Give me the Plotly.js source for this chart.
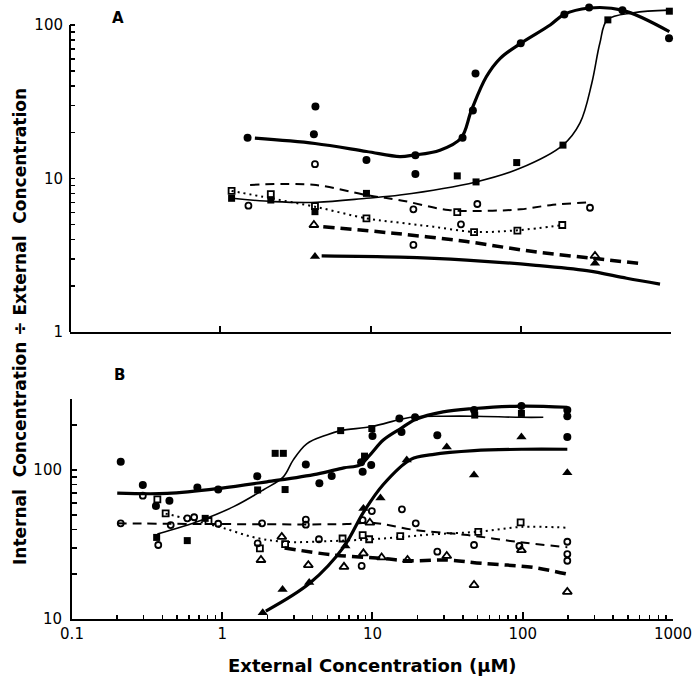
<!DOCTYPE html>
<html>
<head>
<meta charset="utf-8">
<script src="https://cdn.plot.ly/plotly-3.0.1.min.js"></script>
<style>html,body{margin:0;padding:0;background:#fff;}#chart{width:700px;height:676px;}</style>
</head>
<body>
<div id="chart"></div>
<script>
// ---------- Panel A data ----------
var A_filledCircle_x = [1.52, 4.3, 4.2, 9.4, 19.9, 19.9, 41, 48, 50, 100, 195, 285, 475, 970];
var A_filledCircle_y = [18.4, 29.4, 19.4, 13.2, 10.7, 14.2, 18.4, 27.7, 48.3, 76, 117, 130, 125, 82];
var A_filledSquare_x = [1.19, 2.17, 4.27, 9.4, 37.8, 50.4, 94, 191, 380, 975];
var A_filledSquare_y = [7.43, 7.24, 6.08, 8.0, 10.4, 9.5, 12.7, 16.5, 108, 123];
var A_openSquare_x = [1.19, 2.17, 4.27, 9.4, 37.8, 48.9, 95, 189];
var A_openSquare_y = [8.3, 7.9, 6.6, 5.5, 6.03, 4.47, 4.57, 4.98];
var A_openCircle_x = [1.54, 4.27, 19.3, 19.3, 40, 51.4, 289];
var A_openCircle_y = [6.65, 12.4, 6.3, 3.69, 5.03, 6.82, 6.45];
var A_openTriangle_x = [4.2, 312];
var A_openTriangle_y = [4.98, 3.13];
var A_filledTriangle_x = [4.27, 312];
var A_filledTriangle_y = [3.1, 2.8];

var A_curve1_x = [1.7, 4.27, 9.4, 15.7, 19.3, 29, 40, 47, 59, 73, 100, 157, 194, 284, 474, 975];
var A_curve1_y = [18.3, 16.9, 15.0, 13.9, 14.2, 15.3, 18.3, 27.9, 46, 60.7, 76, 100, 117, 129, 125, 90.5];
var A_curve2_x = [1.2, 2.26, 4.4, 9.4, 15.7, 50.4, 98, 191, 248, 297, 336, 377, 561, 975];
var A_curve2_y = [7.43, 7.07, 7.0, 7.43, 7.8, 9.5, 11.6, 16.5, 23, 41.7, 76, 108, 120, 125];
var A_curve3_x = [1.58, 4.16, 9.4, 16, 33, 65, 100, 157, 282];
var A_curve3_y = [9.07, 9.1, 7.8, 7.2, 6.24, 6.17, 6.3, 6.7, 7.0];
var A_curve4_x = [1.19, 2.17, 4.27, 9.4, 15.7, 26.2, 48.9, 95, 189];
var A_curve4_y = [8.3, 7.43, 6.55, 5.5, 5.15, 4.85, 4.49, 4.6, 4.98];
var A_curve5_x = [4.85, 14.2, 43.6, 121, 304, 607];
var A_curve5_y = [4.85, 4.4, 3.88, 3.34, 3.02, 2.8];
var A_curve6_x = [4.73, 15.7, 43.6, 121, 275, 507, 845];
var A_curve6_y = [3.13, 3.07, 2.94, 2.73, 2.51, 2.24, 2.05];

// ---------- Panel B data ----------
var B_filledCircle_x = [0.211, 0.296, 0.362, 0.445, 0.683, 0.94, 1.71, 3.6, 4.43, 5.35, 8.6, 8.4, 9.8, 10, 15.1, 15.6, 19.2, 27, 47.4, 98, 198, 198, 198];
var B_filledCircle_y = [113.7, 79.3, 57.3, 62.2, 76.3, 74, 91, 109, 81.5, 91.4, 97.5, 113, 108, 169, 222, 180, 226, 171, 253, 269, 253, 230, 167];
var B_filledSquare_x = [0.366, 0.585, 0.77, 2.25, 2.55, 1.72, 2.62, 6.14, 8.85, 9.9, 47.9, 98];
var B_filledSquare_y = [35.3, 33.6, 47.4, 129.5, 129.5, 73.5, 74, 184, 124, 190, 234, 240];
var B_openCircle_x = [0.211, 0.296, 0.375, 0.454, 0.585, 0.65, 0.94, 1.72, 1.84, 3.6, 3.6, 4.4, 8.47, 8.6, 9.9, 15.7, 19.4, 27, 47.4, 95, 198, 198, 198];
var B_openCircle_y = [43.9, 67.3, 31.4, 42.7, 47.4, 48.2, 43.6, 32.2, 43.9, 46.5, 43, 34.3, 22.7, 46.1, 53, 54.5, 43.9, 28.3, 31.4, 30.9, 33, 27.3, 24.6];
var B_openSquare_x = [0.37, 0.42, 0.81, 1.78, 2.62, 6.32, 8.6, 9.5, 15.3, 50.6, 96.8];
var B_openSquare_y = [63.5, 51.2, 45.5, 29.8, 31.8, 34.7, 36.6, 34.3, 36, 38.5, 44.6];
var B_openTriangle_x = [1.81, 2.49, 3.74, 6.46, 8.7, 9.6, 11.5, 17.1, 31.2, 47.4, 98, 198];
var B_openTriangle_y = [24.9, 35.6, 23, 22.4, 27.6, 44.3, 25.9, 24.9, 26.5, 16.9, 29, 15.2];
var B_filledTriangle_x = [1.86, 2.52, 3.79, 6.6, 8.7, 11.3, 16.9, 31.2, 47.4, 98, 198];
var B_filledTriangle_y = [11, 15.8, 17.6, 30.9, 55.3, 65, 117, 143, 92.5, 167, 96];

var B_curve1_x = [0.2, 0.43, 0.97, 1.98, 4.26, 6.44, 8.2, 9.6, 11.8, 15.4, 19.4, 29.5, 47.4, 98, 198];
var B_curve1_y = [70, 69.7, 75.4, 83.4, 94, 103.5, 108, 126, 159, 190, 219, 246, 259, 269, 264];
var B_curve2_x = [0.37, 0.71, 1.19, 1.87, 2.55, 2.97, 3.65, 4.95, 6.14, 9.9, 15.3, 19.2, 29.5, 47.4, 98, 137];
var B_curve2_y = [37.2, 45.7, 56.8, 73.5, 90, 117, 150, 172, 184, 196, 219, 228, 230, 230, 226, 226];
var B_curve3_x = [1.95, 3.85, 6.44, 8.7, 11.8, 18, 25, 47.4, 100, 198];
var B_curve3_y = [11.3, 17.5, 30.5, 52, 80, 118, 127, 135, 138, 138];
var B_curve4_x = [0.2, 0.93, 6.73, 9.9, 19.4, 43, 91, 198];
var B_curve4_y = [43.9, 43.4, 43.4, 44.3, 39.5, 36.6, 33, 30.3];
var B_curve5_x = [0.42, 0.7, 1.0, 1.6, 2.55, 5.5, 11.8, 25, 50, 98, 198];
var B_curve5_y = [51, 45, 41, 35.5, 33, 33.4, 34.7, 37, 38.5, 41.5, 41];
var B_curve6_x = [2.6, 5.5, 11.8, 17, 31, 54.6, 117, 198];
var B_curve6_y = [30, 26.9, 25.5, 24.6, 24.9, 23.6, 22.2, 20];

// ---------- tick values ----------
var A_ytickvals = [1,2,3,4,5,6,7,8,9,10,20,30,40,50,60,70,80,90,100];
var A_yticktext = ['1','','','','','','','','','10','','','','','','','','','100'];
var A_xtickvals = [1,10,100,1000];
var B_ytickvals = [10,20,30,40,50,60,70,80,90,100,200,300];
var B_yticktext = ['10','','','','','','','','','100','',''];
var B_xtickvals = [0.1,1,10,100,1000];
var B_xticktext = ['0.1','1','10','100','1000'];
var B_xminor = [0.2,0.3,0.4,0.5,0.6,0.7,0.8,0.9,2,3,4,5,6,7,8,9,20,30,40,50,60,70,80,90,200,300,400,500,600,700,800,900];

var K = 'black';
function mk(x, y, xa, ya, sym, size, lw) {
  return {x:x, y:y, xaxis:xa, yaxis:ya, type:'scatter', mode:'markers', cliponaxis:false,
    marker:{symbol:sym, size:size, color:K, line:{color:K, width:lw||0}}, hoverinfo:'skip'};
}
function ln(x, y, xa, ya, w, dash) {
  return {x:x, y:y, xaxis:xa, yaxis:ya, type:'scatter', mode:'lines', cliponaxis:false,
    line:{color:K, width:w, dash:dash||'solid', shape:'spline', smoothing:1}, hoverinfo:'skip'};
}

var data = [
  ln(A_curve1_x, A_curve1_y, 'x', 'y', 3.2),
  ln(A_curve2_x, A_curve2_y, 'x', 'y', 1.6),
  ln(A_curve3_x, A_curve3_y, 'x', 'y', 2, '9px,6px'),
  ln(A_curve4_x, A_curve4_y, 'x', 'y', 2, '2px,4px'),
  ln(A_curve5_x, A_curve5_y, 'x', 'y', 3.5, '11px,6px'),
  ln(A_curve6_x, A_curve6_y, 'x', 'y', 3.2),
  mk(A_filledCircle_x, A_filledCircle_y, 'x', 'y', 'circle', 8),
  mk(A_filledSquare_x, A_filledSquare_y, 'x', 'y', 'square', 7),
  mk(A_openSquare_x, A_openSquare_y, 'x', 'y', 'square-open', 6, 1.8),
  mk(A_openCircle_x, A_openCircle_y, 'x', 'y', 'circle-open', 6, 1.8),
  mk(A_openTriangle_x, A_openTriangle_y, 'x', 'y', 'triangle-up-open', 8, 1.8),
  mk(A_filledTriangle_x, A_filledTriangle_y, 'x', 'y', 'triangle-up', 9),

  ln(B_curve1_x, B_curve1_y, 'x2', 'y2', 3.2),
  ln(B_curve2_x, B_curve2_y, 'x2', 'y2', 1.6),
  ln(B_curve3_x, B_curve3_y, 'x2', 'y2', 3.2),
  ln(B_curve4_x, B_curve4_y, 'x2', 'y2', 2, '9px,6px'),
  ln(B_curve5_x, B_curve5_y, 'x2', 'y2', 2, '2px,4px'),
  ln(B_curve6_x, B_curve6_y, 'x2', 'y2', 3.5, '11px,6px'),
  mk(B_filledCircle_x, B_filledCircle_y, 'x2', 'y2', 'circle', 8),
  mk(B_filledSquare_x, B_filledSquare_y, 'x2', 'y2', 'square', 7),
  mk(B_openCircle_x, B_openCircle_y, 'x2', 'y2', 'circle-open', 6, 1.8),
  mk(B_openSquare_x, B_openSquare_y, 'x2', 'y2', 'square-open', 6, 1.8),
  mk(B_openTriangle_x, B_openTriangle_y, 'x2', 'y2', 'triangle-up-open', 8, 1.8),
  mk(B_filledTriangle_x, B_filledTriangle_y, 'x2', 'y2', 'triangle-up', 9)
];

var tickFont = {family:'DejaVu Sans', size:15, color:K};

var layout = {
  width:700, height:676, margin:{l:0, r:0, t:0, b:0},
  paper_bgcolor:'white', plot_bgcolor:'white', showlegend:false,
  xaxis:{type:'log', range:[-1,3], domain:[0.1, 0.95857], anchor:'y',
    showline:true, linecolor:K, linewidth:2, ticks:'inside', tickvals:A_xtickvals,
    ticklen:6, tickwidth:2, tickcolor:K, showticklabels:false, showgrid:false, zeroline:false},
  yaxis:{type:'log', range:[0, 2.1629], domain:[0.50888, 1], anchor:'x',
    showline:false, ticks:'inside', tickvals:A_ytickvals, ticktext:A_yticktext,
    ticklen:5, tickwidth:1.5, tickcolor:K, showgrid:false, zeroline:false,
    tickfont:tickFont, ticklabelstandoff:6},
  xaxis2:{type:'log', range:[-1,3], domain:[0.102857, 0.961429], anchor:'y2',
    showline:true, linecolor:K, linewidth:2, ticks:'inside', tickvals:B_xtickvals, ticktext:B_xticktext,
    ticklen:7, tickwidth:2, tickcolor:K, showgrid:false, zeroline:false, tickfont:tickFont,
    minor:{tickvals:B_xminor, ticks:'inside', ticklen:4, tickwidth:1.5, tickcolor:K, showgrid:false}},
  yaxis2:{type:'log', range:[1, 2.4771], domain:[0.08432, 0.40976], anchor:'x2',
    showline:true, linecolor:K, linewidth:2, ticks:'inside', tickvals:B_ytickvals, ticktext:B_yticktext,
    ticklen:5, tickwidth:1.5, tickcolor:K, showgrid:false, zeroline:false, tickfont:tickFont, ticklabelstandoff:5},
  shapes:[
    {type:'line', xref:'paper', yref:'y', x0:0.1, x1:0.1, y0:1, y1:100, line:{color:K, width:2}}
  ],
  annotations:[
    {text:'A', xref:'paper', yref:'paper', x:118/700, y:(676-18)/676, xanchor:'center', yanchor:'middle', showarrow:false,
     font:{family:'DejaVu Sans', size:15, color:K, weight:'bold'}},
    {text:'B', xref:'paper', yref:'paper', x:119/700, y:(676-375)/676, xanchor:'center', yanchor:'middle', showarrow:false,
     font:{family:'DejaVu Sans', size:15, color:K, weight:'bold'}},
    {text:'External Concentration (\u03bcM)', xref:'paper', yref:'paper', x:373/700, y:(676-665)/676,
     xanchor:'center', yanchor:'middle', showarrow:false,
     font:{family:'DejaVu Sans', size:18, color:K, weight:'bold'}},
    {text:'Internal  Concentration \u00f7 External  Concentration', xref:'paper', yref:'paper',
     x:20/700, y:(676-327)/676, xanchor:'center', yanchor:'middle', textangle:-90, showarrow:false,
     font:{family:'DejaVu Sans', size:17, color:K, weight:'bold'}}
  ]
};

Plotly.newPlot('chart', data, layout, {staticPlot:true, displayModeBar:false});
</script>
</body>
</html>
